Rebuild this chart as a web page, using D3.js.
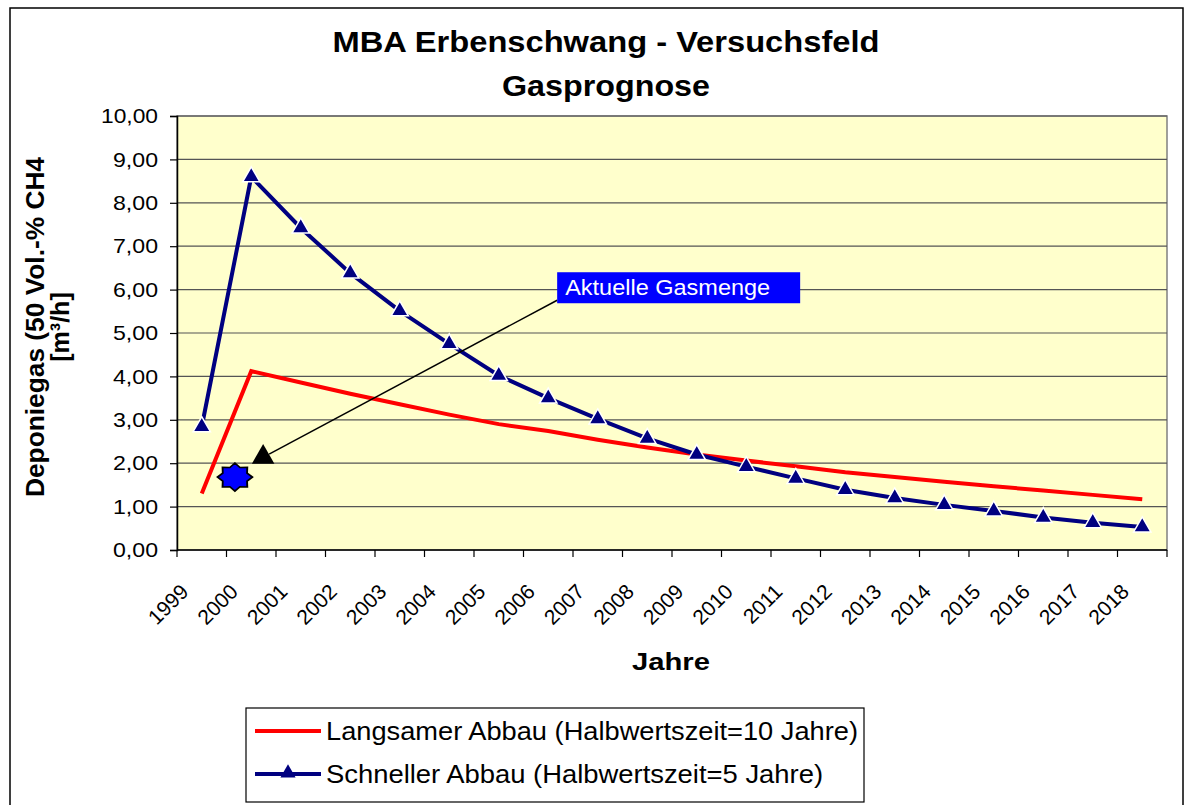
<!DOCTYPE html>
<html>
<head>
<meta charset="utf-8">
<script src="https://cdn.jsdelivr.net/npm/d3@7"></script>
<style>
  body { margin: 0; background: #fff; }
  text { font-family: "Liberation Sans", Arial, sans-serif; }
</style>
</head>
<body>
<svg width="1188" height="805"></svg>
<script>
// data
var years = ["1999","2000","2001","2002","2003","2004","2005","2006","2007","2008",
             "2009","2010","2011","2012","2013","2014","2015","2016","2017","2018"];
var langsam = [1.30, 4.12, 3.86, 3.60, 3.36, 3.12, 2.90, 2.74, 2.54, 2.36,
               2.20, 2.06, 1.93, 1.79, 1.68, 1.57, 1.47, 1.37, 1.27, 1.17];
var schnell = [2.84, 8.60, 7.42, 6.38, 5.51, 4.75, 4.02, 3.50, 3.02, 2.57,
               2.20, 1.92, 1.65, 1.39, 1.20, 1.04, 0.90, 0.75, 0.63, 0.53];
var yTicks = [0,1,2,3,4,5,6,7,8,9,10];
// current gas amount (star) and the pointer marker, x as category position
var aktuell = [{pos: 1.17, value: 1.68}];
var pointer = [{pos: 1.74, value: 2.14}];
var labelPos = {pos: 7.68, value: 6.4};

var svg = d3.select("svg"),
    margin = {top: 116, right: 21, bottom: 255, left: 177},
    width = 1188 - margin.left - margin.right,
    height = 805 - margin.top - margin.bottom,
    g = svg.append("g").attr("transform", "translate(" + margin.left + "," + margin.top + ")");

// outer frame
svg.append("rect")
  .attr("x", 10).attr("y", 8)
  .attr("width", 1173).attr("height", 810)
  .attr("fill", "none").attr("stroke", "#000").attr("stroke-width", 1.5);

var x = d3.scaleBand().domain(years).range([0, width]).padding(0);
var xPos = d3.scaleLinear().domain([0, years.length]).range([0, width]);
var y = d3.scaleLinear().domain([0, 10]).range([height, 0]);
var fmt = function(d) { return d3.format(".2f")(d).replace(".", ","); };

// plot background
g.append("rect")
  .attr("width", width).attr("height", height)
  .attr("fill", "#FFFFCC").attr("stroke", "#808080").attr("stroke-width", 1.5);

// grid
g.append("g")
  .selectAll("line")
  .data(yTicks.slice(1))
  .enter().append("line")
    .attr("x1", 0).attr("x2", width)
    .attr("y1", function(d) { return y(d); })
    .attr("y2", function(d) { return y(d); })
    .attr("stroke", "#555").attr("stroke-width", 1.2);

// y axis
var yAxis = g.append("g")
  .call(d3.axisLeft(y).tickValues(yTicks).tickFormat(fmt).tickSize(7).tickPadding(12));
yAxis.select(".domain").attr("stroke", "#000").attr("stroke-width", 1.5);
yAxis.selectAll(".tick line").attr("stroke", "#000").attr("stroke-width", 1.2);
yAxis.selectAll(".tick text")
  .attr("font-size", 21).attr("fill", "#000")
  .attr("textLength", function(d) { return d >= 10 ? 57 : 45; })
  .attr("lengthAdjust", "spacingAndGlyphs")
  .style("font-family", "'Liberation Sans', Arial, sans-serif");

// x axis (ticks between categories)
var xAxis = g.append("g")
  .attr("transform", "translate(0," + height + ")");
xAxis.append("line")
  .attr("x1", 0).attr("x2", width)
  .attr("stroke", "#000").attr("stroke-width", 1.5);
xAxis.selectAll("line.tk")
  .data(d3.range(years.length + 1))
  .enter().append("line")
    .attr("class", "tk")
    .attr("x1", function(d) { return xPos(d); })
    .attr("x2", function(d) { return xPos(d); })
    .attr("y1", 0).attr("y2", 7)
    .attr("stroke", "#000").attr("stroke-width", 1.2);
xAxis.selectAll("text")
  .data(years)
  .enter().append("text")
    .attr("transform", function(d) {
      return "translate(" + (x(d) + x.bandwidth() / 2 - 12) + ",43) rotate(-45)";
    })
    .attr("text-anchor", "end")
    .attr("font-size", 21)
    .text(function(d) { return d; });

// lines
var line = function(vals) {
  return d3.line()
    .x(function(d, i) { return x(years[i]) + x.bandwidth() / 2; })
    .y(function(d) { return y(d); })(vals);
};

g.append("path")
  .attr("d", line(langsam))
  .attr("fill", "none").attr("stroke", "#FF0000").attr("stroke-width", 4);

g.append("path")
  .attr("d", line(schnell))
  .attr("fill", "none").attr("stroke", "#000080").attr("stroke-width", 4);

var tri = d3.symbol().type(d3.symbolTriangle).size(130);
g.selectAll("path.mk")
  .data(schnell)
  .enter().append("path")
    .attr("class", "mk")
    .attr("d", tri)
    .attr("transform", function(d, i) {
      return "translate(" + (x(years[i]) + x.bandwidth() / 2) + "," + y(d) + ")";
    })
    .attr("fill", "#000080").attr("stroke", "#fff").attr("stroke-width", 1.5);

// annotation
var lx = xPos(labelPos.pos), ly = y(labelPos.value);
g.append("line")
  .attr("x1", lx).attr("y1", ly + 28)
  .attr("x2", xPos(pointer[0].pos) + 6).attr("y2", y(pointer[0].value) - 3)
  .attr("stroke", "#000").attr("stroke-width", 1.5);

g.selectAll("path.ptr")
  .data(pointer)
  .enter().append("path")
    .attr("class", "ptr")
    .attr("d", d3.symbol().type(d3.symbolTriangle).size(220))
    .attr("transform", function(d) { return "translate(" + xPos(d.pos) + "," + y(d.value) + ")"; })
    .attr("fill", "#000");

// eight-point star marker
var star = function(r1, r2) {
  var pts = [];
  for (var k = 0; k < 16; k++) {
    var a = k * Math.PI / 8, r = k % 2 ? r2 : r1;
    pts.push([r * Math.cos(a), r * Math.sin(a)]);
  }
  return "M" + pts.join("L") + "Z";
};
g.selectAll("path.akt")
  .data(aktuell)
  .enter().append("path")
    .attr("class", "akt")
    .attr("d", star(14, 10.5))
    .attr("transform", function(d) { return "translate(" + xPos(d.pos) + "," + y(d.value) + ") scale(1.25,1)"; })
    .attr("fill", "#0000FF").attr("stroke", "#000").attr("stroke-width", 1.5);

g.append("rect")
  .attr("x", lx).attr("y", ly)
  .attr("width", 243).attr("height", 31)
  .attr("fill", "#0000FF");
g.append("text")
  .attr("x", lx + 8).attr("y", ly + 23)
  .attr("font-size", 22).attr("fill", "#fff")
  .attr("textLength", 205).attr("lengthAdjust", "spacingAndGlyphs")
  .text("Aktuelle Gasmenge");

// titles
svg.append("text")
  .attr("x", 606).attr("y", 52)
  .attr("text-anchor", "middle")
  .attr("font-size", 29).attr("font-weight", "bold")
  .attr("textLength", 547).attr("lengthAdjust", "spacingAndGlyphs")
  .text("MBA Erbenschwang - Versuchsfeld");
svg.append("text")
  .attr("x", 606).attr("y", 96)
  .attr("text-anchor", "middle")
  .attr("font-size", 29).attr("font-weight", "bold")
  .attr("textLength", 208).attr("lengthAdjust", "spacingAndGlyphs")
  .text("Gasprognose");

svg.append("text")
  .attr("x", 671).attr("y", 670)
  .attr("text-anchor", "middle")
  .attr("font-size", 24).attr("font-weight", "bold")
  .attr("textLength", 78).attr("lengthAdjust", "spacingAndGlyphs")
  .text("Jahre");

var yt = svg.append("text")
  .attr("transform", "translate(35,327) rotate(-90)")
  .attr("text-anchor", "middle")
  .attr("font-size", 25).attr("font-weight", "bold");
yt.append("tspan").attr("x", 0).attr("dy", 9)
  .attr("textLength", 340).attr("lengthAdjust", "spacingAndGlyphs")
  .text("Deponiegas (50 Vol.-% CH4");
yt.append("tspan").attr("x", 0).attr("dy", 25).text("[m³/h]");

// legend
var legend = svg.append("g").attr("transform", "translate(246,708)");
legend.append("rect")
  .attr("width", 618).attr("height", 94)
  .attr("fill", "#fff").attr("stroke", "#000").attr("stroke-width", 1.2);

var items = [
  {name: "Langsamer Abbau (Halbwertszeit=10 Jahre)", color: "#FF0000", marker: false, len: 532},
  {name: "Schneller Abbau (Halbwertszeit=5 Jahre)", color: "#000080", marker: true, len: 497}
];
var li = legend.selectAll("g.item")
  .data(items)
  .enter().append("g")
    .attr("class", "item")
    .attr("transform", function(d, i) { return "translate(0," + (23 + i * 43) + ")"; });
li.append("line")
  .attr("x1", 9).attr("x2", 75)
  .attr("stroke", function(d) { return d.color; }).attr("stroke-width", 4);
li.filter(function(d) { return d.marker; })
  .append("path")
    .attr("d", d3.symbol().type(d3.symbolTriangle).size(100))
    .attr("transform", "translate(42,-1)")
    .attr("fill", "#000080");
li.append("text")
  .attr("x", 80).attr("y", 9)
  .attr("font-size", 26)
  .attr("textLength", function(d) { return d.len; })
  .attr("lengthAdjust", "spacingAndGlyphs")
  .text(function(d) { return d.name; });
</script>
</body>
</html>
